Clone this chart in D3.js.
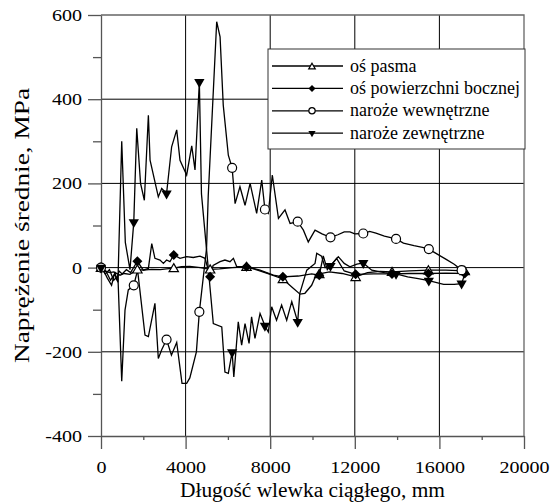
<!DOCTYPE html>
<html>
<head>
<meta charset="utf-8">
<script src="https://cdn.jsdelivr.net/npm/d3@7"></script>
<style>
  body { margin: 0; background: #fff; }
  svg text { font-family: 'Liberation Serif', 'Times New Roman', serif; fill: #000; }
</style>
</head>
<body>
<div id="chart"></div>
<script>
// ---- data (mm, MPa) ----
const xTicks = [0, 4000, 8000, 12000, 16000, 20000]
const xMinorTicks = [2000, 6000, 10000, 14000, 18000]
const yTicks = [-400, -200, 0, 200, 400, 600]
const yMinorTicks = [-300, -100, 100, 300, 500]

const seriesNames = ['oś pasma', 'oś powierzchni bocznej', 'naroże wewnętrzne', 'naroże zewnętrzne']

const osPasma = [[0, 0], [200, -8], [400, -12], [600, -10], [900, -18], [1100, -14], [1370, -16], [1720, -4],
  [2000, -6], [2400, -4], [2800, -5], [3100, -3], [3440, -1], [3800, 2], [4200, 3], [4700, 0], [5160, -4],
  [5600, -3], [6200, 0], [6880, 2], [7400, -6], [8000, -16], [8600, -27], [9020, -46], [9410, -63],
  [9640, -61], [9960, -42], [10150, -20], [10320, -15], [10800, -10], [11400, -14], [12040, -22],
  [12600, -12], [13200, -9], [13760, -10], [14600, -8], [15480, -6], [16300, -6], [17200, -8]]

const osBoczna = [[0, 0], [150, -10], [300, -25], [500, -42], [660, -10], [740, -30], [850, -8], [1000, -15],
  [1200, -5], [1400, -12], [1720, 15], [2000, -6], [2240, -2], [2400, 57], [2550, 22], [2790, 18], [2950, 10],
  [3100, 18], [3260, 14], [3440, 30], [3735, 22], [4050, 26], [4365, 24], [4680, 27], [4920, 22], [5160, -22],
  [5300, 5], [5630, 14], [5860, 18], [6100, 14], [6260, 22], [6420, 2], [6880, 2], [7520, -6], [8150, -18],
  [8600, -22], [9330, -20], [9960, -15], [10320, -18], [10510, 28], [10700, -5], [11140, 22], [11500, -8],
  [12040, -16], [12900, -15], [13760, -15], [14600, -14], [15480, -14], [16300, -13], [17200, -14]]

const narozeWewn = [[0, 0], [200, -15], [400, -5], [600, -30], [800, -20], [980, -270], [1135, -101],
  [1290, -53], [1550, -42], [1730, -6], [2080, -160], [2240, -164], [2550, -85], [2710, -216], [2870, -195],
  [3100, -171], [3330, -208], [3580, -178], [3830, -275], [4050, -275], [4200, -262], [4510, -200],
  [4650, -105], [4990, 45], [5070, 170], [5470, 584], [5630, 548], [5780, 386], [6020, 267], [6200, 237],
  [6340, 152], [6570, 192], [6810, 148], [7050, 200], [7360, 129], [7600, 208], [7750, 138], [7910, 129],
  [8100, 220], [8390, 117], [8700, 137], [8940, 105], [9300, 109], [9570, 89], [9800, 61], [10120, 89],
  [10450, 80], [10850, 72], [11200, 78], [11500, 85], [11770, 85], [12000, 80], [12400, 81], [12700, 86],
  [13000, 82], [13400, 75], [13950, 68], [14300, 58], [14800, 52], [15200, 48], [15500, 44], [15900, 32],
  [16300, 20], [16700, 8], [17050, -6], [17200, -12]]

const narozeZewn = [[0, 0], [250, -10], [450, -30], [650, -15], [800, -35], [980, 300], [1150, 60],
  [1370, -5], [1550, 108], [1690, 331], [1870, 200], [2050, 160], [2240, 362], [2320, 255], [2710, 168],
  [2870, 188], [3100, 176], [3340, 287], [3580, 327], [3735, 255], [4050, 220], [4290, 289], [4445, 232],
  [4650, 441], [4750, 175], [5310, -133], [5710, -141], [5860, -248], [6020, -251], [6200, -201],
  [6280, -260], [6490, -129], [6650, -184], [6810, -133], [7000, -180], [7120, -117], [7280, -168],
  [7520, -109], [7750, -138], [7910, -153], [8070, -93], [8300, -125], [8540, -89], [8780, -125],
  [9020, -81], [9300, -129], [9400, -61], [9730, -6], [10120, 10], [10200, 34], [10430, 27], [10600, 0],
  [10850, 4], [11220, 26], [11500, 10], [11770, 2], [12100, 8], [12400, 11], [12800, -6], [13400, -12],
  [13950, -15], [14500, -22], [15000, -26], [15500, -31], [16200, -40], [16700, -40], [17050, -38],
  [17200, -15]]

// positions where markers are drawn
const markersOs = [0, 1720, 3440, 5160, 6880, 8600, 10320, 12040, 13760, 15480, 17200]
const markersNaroze = [0, 1550, 3100, 4650, 6200, 7750, 9300, 10850, 12400, 13950, 15500, 17050]

const xLabel = 'Długość wlewka ciągłego, mm'
const yLabel = 'Naprężenie średnie, MPa'

// ---- chart ----
const width = 554
const height = 504
const plot = {left: 101, right: 524, top: 15, bottom: 436}
const serif = "'Liberation Serif', 'Times New Roman', serif"

const x = d3.scaleLinear().domain([0, 20000]).range([plot.left, plot.right])
const y = d3.scaleLinear().domain([-400, 600]).range([plot.bottom, plot.top])

const series = [
  {name: seriesNames[0], data: osPasma, marks: markersOs, symbol: 'triUp'},
  {name: seriesNames[1], data: osBoczna, marks: markersOs, symbol: 'diamond'},
  {name: seriesNames[2], data: narozeWewn, marks: markersNaroze, symbol: 'circle'},
  {name: seriesNames[3], data: narozeZewn, marks: markersNaroze, symbol: 'triDown'}
]

const svg = d3.select('#chart').append('svg')
  .attr('width', width)
  .attr('height', height)
  .attr('font-family', serif)

// grid
const grid = svg.append('g').attr('class', 'grid')
grid.selectAll('line.vx')
  .data(xTicks.slice(1, -1))
  .enter().append('line')
    .attr('x1', d => x(d)).attr('x2', d => x(d))
    .attr('y1', plot.top).attr('y2', plot.bottom)
    .attr('stroke', '#000').attr('stroke-width', 1)
grid.selectAll('line.hy')
  .data(yTicks.slice(1, -1))
  .enter().append('line')
    .attr('y1', d => y(d)).attr('y2', d => y(d))
    .attr('x1', plot.left).attr('x2', plot.right)
    .attr('stroke', '#000').attr('stroke-width', 1)

// frame top / right
svg.append('path')
  .attr('d', 'M' + plot.left + ',' + plot.top + 'H' + plot.right + 'V' + plot.bottom)
  .attr('fill', 'none').attr('stroke', '#666').attr('stroke-width', 1.3)

// axes
function styleAxis (g) {
  g.attr('font-family', serif)
  g.selectAll('path, line').attr('stroke', '#555').attr('stroke-width', 1.3)
  // the figure's lettering is a little wider than the font
  g.selectAll('text')
    .style('font-size', '17px')
    .each(function () {
      const t = d3.select(this)
      const tx = +t.attr('x') || 0
      const ty = +t.attr('y') || 0
      t.attr('x', 0).attr('y', 0)
        .attr('transform', 'translate(' + tx + ',' + ty + ') scale(1.18,1)')
        .text(t.text().replace('−', '-'))
    })
}

svg.append('g')
  .attr('transform', 'translate(0,' + plot.bottom + ')')
  .call(d3.axisBottom(x).tickValues(xTicks).tickSize(13).tickSizeOuter(0).tickPadding(12).tickFormat(d3.format('d')))
  .call(styleAxis)
svg.append('g')
  .attr('transform', 'translate(0,' + plot.bottom + ')')
  .call(d3.axisBottom(x).tickValues(xMinorTicks).tickSize(4).tickSizeOuter(0).tickFormat(''))
  .call(g => g.select('.domain').remove())
  .call(styleAxis)
svg.append('g')
  .attr('transform', 'translate(' + plot.left + ',0)')
  .call(d3.axisLeft(y).tickValues(yTicks).tickSize(13).tickSizeOuter(0).tickPadding(6).tickFormat(d3.format('d')))
  .call(styleAxis)
svg.append('g')
  .attr('transform', 'translate(' + plot.left + ',0)')
  .call(d3.axisLeft(y).tickValues(yMinorTicks).tickSize(8).tickSizeOuter(0).tickFormat(''))
  .call(g => g.select('.domain').remove())
  .call(styleAxis)

// axis titles
svg.append('text')
  .attr('transform', 'translate(' + (plot.left + plot.right) / 2 + ',497) scale(1.07,1)')
  .attr('text-anchor', 'middle')
  .style('font-size', '20px')
  .text(xLabel)
svg.append('text')
  .attr('transform', 'translate(29,' + (plot.top + plot.bottom) / 2 + ') rotate(-90) scale(1.3,1)')
  .attr('text-anchor', 'middle')
  .style('font-size', '21px')
  .text(yLabel)

// markers
function marker (sel, type, s) {
  if (type === 'circle') {
    sel.append('circle').attr('r', 4.5 * s).attr('fill', '#fff').attr('stroke', '#000').attr('stroke-width', 1.2)
  } else if (type === 'diamond') {
    sel.append('path').attr('d', d3.symbol(d3.symbolSquare, 50 * s * s)).attr('transform', 'rotate(45)')
      .attr('fill', '#000')
  } else if (type === 'triUp') {
    sel.append('path').attr('d', d3.symbol(d3.symbolTriangle, 38 * s * s)).attr('transform', 'translate(0,1)')
      .attr('fill', '#fff').attr('stroke', '#000').attr('stroke-width', 1.2)
  } else {
    sel.append('path').attr('d', d3.symbol(d3.symbolTriangle, 46 * s * s)).attr('transform', 'rotate(180)')
      .attr('fill', '#000')
  }
}

const line = d3.line().x(d => x(d[0])).y(d => y(d[1]))

const seriesG = svg.append('g').attr('class', 'series')
series.forEach(function (s) {
  seriesG.append('path')
    .datum(s.data)
    .attr('d', line)
    .attr('fill', 'none')
    .attr('stroke', '#000')
    .attr('stroke-width', 1.3)
})
series.forEach(function (s) {
  const pts = s.marks.map(mx => s.data.find(d => d[0] === mx)).filter(d => d)
  seriesG.selectAll('g.m-' + s.symbol)
    .data(pts)
    .enter().append('g')
      .attr('transform', d => 'translate(' + x(d[0]) + ',' + y(d[1]) + ')')
      .each(function () { marker(d3.select(this), s.symbol, 1) })
})

// legend
const legend = svg.append('g').attr('class', 'legend').attr('transform', 'translate(268,49)')
legend.append('rect')
  .attr('width', 257).attr('height', 100)
  .attr('fill', '#fff').attr('stroke', '#333').attr('stroke-width', 1)
const items = legend.selectAll('g.item')
  .data(series)
  .enter().append('g')
    .attr('transform', (d, i) => 'translate(0,' + (17 + i * 22.4) + ')')
items.append('line')
  .attr('x1', 4).attr('x2', 75)
  .attr('stroke', '#000').attr('stroke-width', 1.3)
items.append('g')
  .attr('transform', 'translate(44,0)')
  .each(function (d) { marker(d3.select(this), d.symbol, 0.7) })
items.append('text')
  .attr('x', 82).attr('y', 5.5)
  .style('font-size', '18px')
  .text(d => d.name)
</script>
</body>
</html>
